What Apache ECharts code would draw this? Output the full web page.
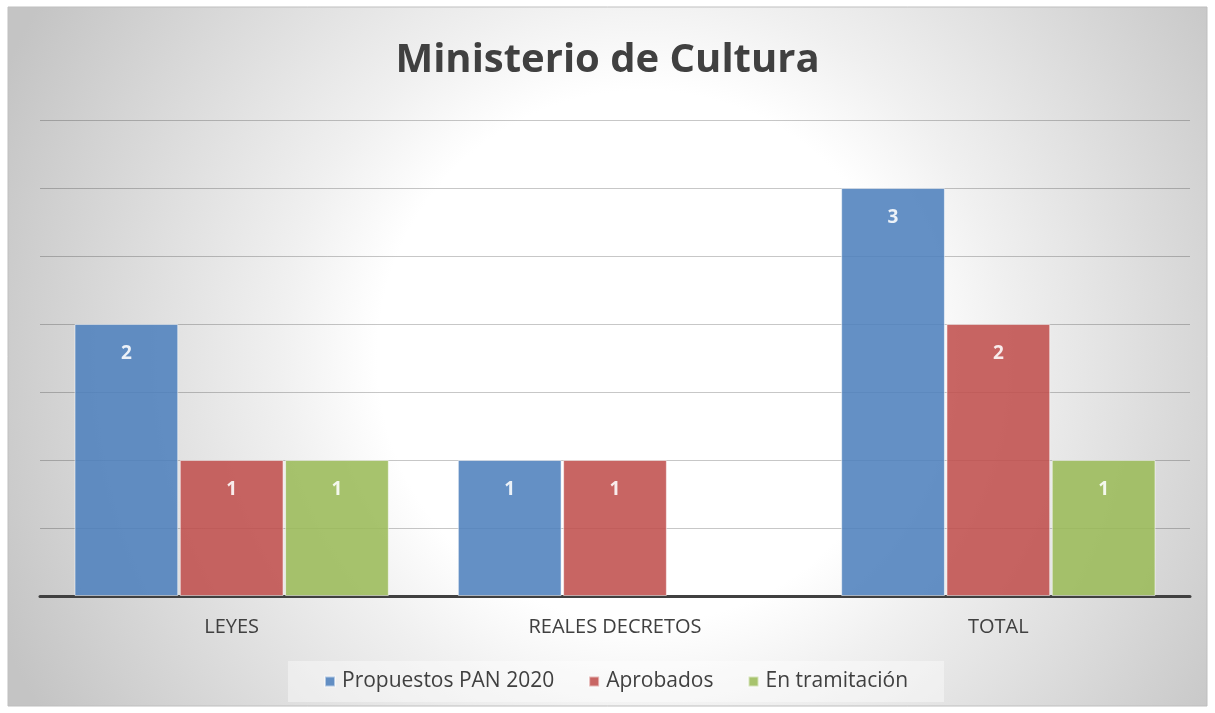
<!DOCTYPE html>
<html>
<head>
<meta charset="utf-8">
<title>Ministerio de Cultura</title>
<script src="https://cdn.jsdelivr.net/npm/echarts@6/dist/echarts.min.js"></script>
<style>
  html, body { margin: 0; padding: 0; background: #fff; }
  #chart { width: 1215px; height: 713px; }
</style>
</head>
<body>
<div id="chart"></div>
<script>
// datos
var categorias = ['LEYES', 'REALES DECRETOS', 'TOTAL']
var propuestos = [2, 1, 3]
var aprobados = [1, 1, 2]
var enTramitacion = [1, '-', 1]
var nombres = ['Propuestos PAN 2020', 'Aprobados', 'En tramitación']

var myChart = echarts.init(document.getElementById('chart'))

function serie(nombre, datos, color) {
  return {
    name: nombre,
    type: 'bar',
    data: datos,
    barCategoryGap: '18%',
    barGap: '1.5%',
    itemStyle: {
      color: color,
      opacity: 0.88,
      borderColor: 'rgba(255,255,255,0.6)',
      borderWidth: 1,
    },
    label: {
      show: true,
      position: 'insideTop',
      distance: 20,
      color: '#fff',
      fontFamily: 'Open Sans',
      fontWeight: 'bold',
      fontSize: 19,
    },
  }
}

myChart.setOption({
  textStyle: { fontFamily: 'Open Sans' },
  graphic: [
    {
      type: 'rect',
      z: -10,
      silent: true,
      shape: { x: 8, y: 7, width: 1199, height: 699 },
      style: {
        fill: new echarts.graphic.RadialGradient(0.53, 0.5, 1.0, [
          { offset: 0, color: '#ffffff' },
          { offset: 0.38, color: '#ffffff' },
          { offset: 0.52, color: '#f0f0f0' },
          { offset: 1, color: '#c4c4c4' },
        ]),
        stroke: '#bfbfbf',
        lineWidth: 1,
      },
    },
  ],
  title: {
    text: 'Ministerio de Cultura',
    left: 'center',
    top: 36,
    textStyle: {
      fontFamily: 'Open Sans',
      fontWeight: 'bold',
      fontSize: 40,
      color: '#404040',
    },
  },
  legend: {
    data: nombres,
    icon: 'rect',
    left: 288,
    top: 661,
    itemWidth: 10,
    itemHeight: 10,
    itemGap: 34,
    padding: [10, 36],
    backgroundColor: 'rgba(255,255,255,0.4)',
    textStyle: { fontSize: 21, color: '#404040', fontFamily: 'Open Sans', padding: [0, 0, 0, 2] },
  },
  grid: {
    left: 40,
    right: 25,
    top: 120,
    bottom: 117,
  },
  xAxis: {
    type: 'category',
    data: categorias,
    axisLine: { lineStyle: { color: '#404040', width: 3 } },
    axisTick: { show: false },
    axisLabel: { fontSize: 20, color: '#404040', margin: 21 },
  },
  yAxis: {
    type: 'value',
    min: 0,
    max: 3.5,
    interval: 0.5,
    axisLabel: { show: false },
    axisLine: { show: false },
    axisTick: { show: false },
    splitLine: { lineStyle: { color: 'rgba(0,0,0,0.22)', width: 1 } },
  },
  series: [
    serie(nombres[0], propuestos, '#4f81bd'),
    serie(nombres[1], aprobados, '#c0504d'),
    serie(nombres[2], enTramitacion, '#9bbb59'),
  ],
})
</script>
</body>
</html>
